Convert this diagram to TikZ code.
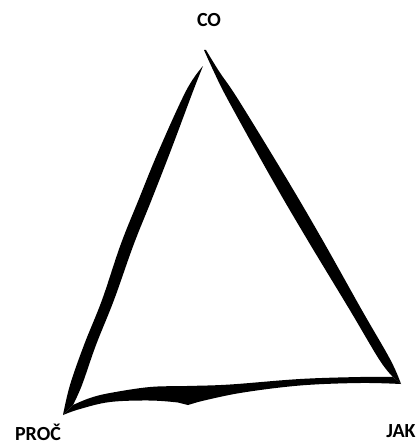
\documentclass[tikz,border=0pt]{standalone}
\usepackage{fontspec}
\setmainfont{Carlito}
\begin{document}
\begin{tikzpicture}[x=1pt,y=-1pt,
  lbl/.style={font=\fontsize{20}{23}\selectfont\bfseries, inner sep=0pt, anchor=base},
  brush/.style={fill=black, draw=none},
  sm/.style={smooth, tension=0.6}]
\useasboundingbox[fill=white] (0,0) rectangle (419,444);
% labels
\node[lbl] (co) at (209,27) {CO};
\node[lbl] (proc) at (38,440) {PROČ};
\node[lbl] (jak) at (401,437) {JAK};
% left stroke
\fill[brush] plot[sm] coordinates {(203,66) (193.5,90) (171,150) (151.5,200) (133.5,245) (114,300) (96,345) (82,385) (73,405)}
  -- (63,415)
  -- plot[sm] coordinates {(63,415) (70,385) (84,345) (102,300) (120.5,245) (138.5,200) (159,150) (186.5,90) (203,66)} -- cycle;
% right stroke
\fill[brush] plot[sm] coordinates {(204,50) (214,72) (228,100) (272.4,180) (307.5,240) (349.8,310) (379.5,360) (393,377)}
  -- (401,384)
  -- plot[sm] coordinates {(401,384) (390.5,360) (361.8,310) (322.5,240) (287.4,180) (238.5,100) (219.5,72) (206,50)} -- cycle;
% bottom stroke
\fill[brush] plot[sm] coordinates {(73,405) (90,398) (110,393) (150,387) (187,386) (230,384.5) (300,379) (360,377) (393,377)}
  -- (401,384)
  -- plot[sm] coordinates {(401,384) (360,383) (300,385.5) (240,393) (198,402)}
  -- (188,405)
  -- plot[sm] coordinates {(178,402.5) (150,400.5) (110,402) (80,409) (63,415)} -- cycle;
\end{tikzpicture}
\end{document}
